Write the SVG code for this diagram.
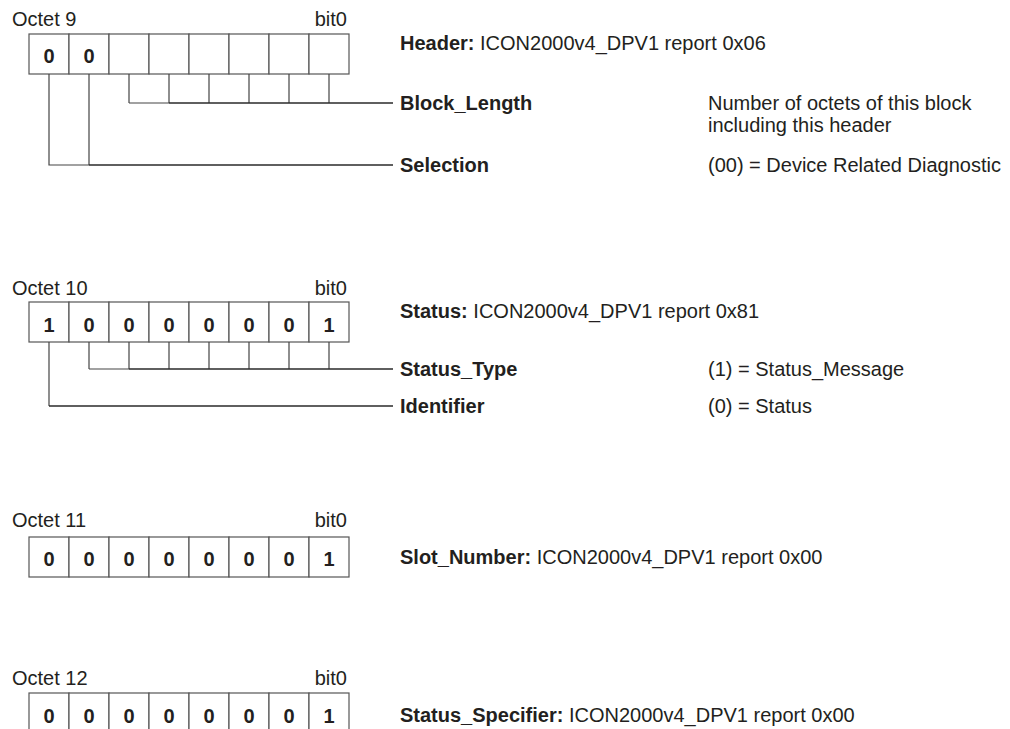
<svg xmlns="http://www.w3.org/2000/svg" width="1010" height="729" viewBox="0 0 1010 729">
<style>
text{font-family:"Liberation Sans",Arial,sans-serif;fill:#231f20}
.lbl{font-size:20px}
.r{text-anchor:end}
.d{font-size:20px;font-weight:bold;text-anchor:middle}
.t{font-size:20px}
.b{font-weight:bold}
.cell{fill:#fff;stroke:#555;stroke-width:1.2}
.con{fill:none;stroke:#2a2a2a;stroke-width:1.4}
.tick{fill:none;stroke:#444;stroke-width:1.2}
</style>
<defs>
<g id="row8">
<rect class="cell" x="29" y="0" width="40" height="40"/>
<rect class="cell" x="69" y="0" width="40" height="40"/>
<rect class="cell" x="109" y="0" width="40" height="40"/>
<rect class="cell" x="149" y="0" width="40" height="40"/>
<rect class="cell" x="189" y="0" width="40" height="40"/>
<rect class="cell" x="229" y="0" width="40" height="40"/>
<rect class="cell" x="269" y="0" width="40" height="40"/>
<rect class="cell" x="309" y="0" width="40" height="40"/>
</g>
</defs>

<g id="octet9">
<text class="lbl" x="12" y="26">Octet 9</text>
<text class="lbl r" x="347" y="26">bit0</text>
<use href="#row8" y="34"/>
<text class="d" x="49" y="63">0</text>
<text class="d" x="89" y="63">0</text>
<text class="t" x="400" y="50"><tspan class="b">Header:</tspan> ICON2000v4_DPV1 report 0x06</text>
</g>

<g id="block_length">
<text class="t b" x="400" y="110">Block_Length</text>
<text class="t" x="708" y="110">Number of octets of this block</text>
<text class="t" x="708" y="132">including this header</text>
</g>

<g id="selection">
<text class="t b" x="400" y="172">Selection</text>
<text class="t" x="708" y="172">(00) = Device Related Diagnostic</text>
</g>

<g id="octet10">
<text class="lbl" x="12" y="295">Octet 10</text>
<text class="lbl r" x="347" y="295">bit0</text>
<use href="#row8" y="302"/>
<text class="d" x="49" y="332">1</text>
<text class="d" x="89" y="332">0</text>
<text class="d" x="129" y="332">0</text>
<text class="d" x="169" y="332">0</text>
<text class="d" x="209" y="332">0</text>
<text class="d" x="249" y="332">0</text>
<text class="d" x="289" y="332">0</text>
<text class="d" x="329" y="332">1</text>
<text class="t" x="400" y="318"><tspan class="b">Status:</tspan> ICON2000v4_DPV1 report 0x81</text>
</g>

<g id="status_type">
<text class="t b" x="400" y="376">Status_Type</text>
<text class="t" x="708" y="376">(1) = Status_Message</text>
</g>

<g id="identifier">
<text class="t b" x="400" y="413">Identifier</text>
<text class="t" x="708" y="413">(0) = Status</text>
</g>

<g id="octet11">
<text class="lbl" x="12" y="527">Octet 11</text>
<text class="lbl r" x="347" y="527">bit0</text>
<use href="#row8" y="537"/>
<text class="d" x="49" y="566">0</text>
<text class="d" x="89" y="566">0</text>
<text class="d" x="129" y="566">0</text>
<text class="d" x="169" y="566">0</text>
<text class="d" x="209" y="566">0</text>
<text class="d" x="249" y="566">0</text>
<text class="d" x="289" y="566">0</text>
<text class="d" x="329" y="566">1</text>
<text class="t" x="400" y="564"><tspan class="b">Slot_Number:</tspan> ICON2000v4_DPV1 report 0x00</text>
</g>

<g id="octet12">
<text class="lbl" x="12" y="685">Octet 12</text>
<text class="lbl r" x="347" y="685">bit0</text>
<use href="#row8" y="693"/>
<text class="d" x="49" y="723">0</text>
<text class="d" x="89" y="723">0</text>
<text class="d" x="129" y="723">0</text>
<text class="d" x="169" y="723">0</text>
<text class="d" x="209" y="723">0</text>
<text class="d" x="249" y="723">0</text>
<text class="d" x="289" y="723">0</text>
<text class="d" x="329" y="723">1</text>
<text class="t" x="400" y="722"><tspan class="b">Status_Specifier:</tspan> ICON2000v4_DPV1 report 0x00</text>
</g>

<g id="connectors">
<path class="tick" d="M129 74V103M169 74V103M209 74V103M249 74V103M289 74V103M329 74V103M169 103H129"/>
<path class="con" d="M169 103H393"/>
<path class="tick" d="M49 74V165H89M89 74V165"/>
<path class="con" d="M89 165H393"/>
<path class="tick" d="M89 342V369M129 342V369M169 342V369M209 342V369M249 342V369M289 342V369M329 342V369M129 369H89"/>
<path class="con" d="M129 369H393"/>
<path class="tick" d="M49 342V406"/>
<path class="con" d="M49 406H393"/>
</g>
</svg>
